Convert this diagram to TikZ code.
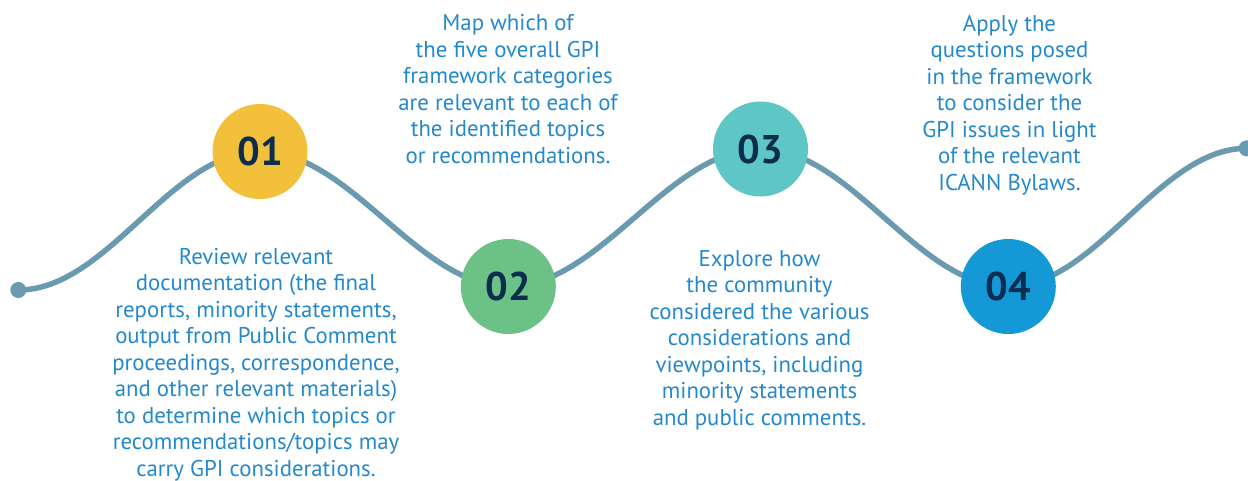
\documentclass[tikz,border=0pt]{standalone}
\usepackage{fontspec}
\setmainfont{PT Sans}
\usetikzlibrary{backgrounds}
\definecolor{wave}{HTML}{6A9AB0}
\definecolor{txt}{HTML}{2388CC}
\definecolor{num}{HTML}{0D2D4F}
\definecolor{cA}{HTML}{F2C03A}
\definecolor{cB}{HTML}{6CC286}
\definecolor{cC}{HTML}{5EC6C4}
\definecolor{cD}{HTML}{1499D6}
\tikzset{
  stepcircle/.style={circle, minimum size=95pt, inner sep=0pt, text=num,
    font=\fontsize{40}{40}\selectfont\bfseries},
  enddot/.style={circle, fill=wave, minimum size=16pt, inner sep=0pt},
  desc/.style={align=center, text=txt, inner sep=0pt, anchor=base,
    font=\fontsize{22.8}{26.5}\selectfont},
  wavy/.style={draw=wave, line width=5.5pt, out=0, in=180, looseness=0.82}
}
\begin{document}
\begin{tikzpicture}[x=1pt,y=-1pt]
\useasboundingbox (0,0) rectangle (1248,480);
\node[enddot] (d0) at (18.3,290) {};
\node[enddot] (d5) at (1246.7,148.3) {};
\node[stepcircle, fill=cA] (c1) at (260,151.5) {01};
\node[stepcircle, fill=cB] (c2) at (508.3,286.5) {02};
\node[stepcircle, fill=cC] (c3) at (760.5,149) {03};
\node[stepcircle, fill=cD] (c4) at (1008.3,286.5) {04};
\begin{pgfonlayer}{background}
\draw[wavy] (d0.center) to (c1.center);
\draw[wavy] (c1.center) to (c2.center);
\draw[wavy] (c2.center) to (c3.center);
\draw[wavy] (c3.center) to (c4.center);
\draw[wavy] (c4.center) to (d5.center);
\end{pgfonlayer}
\node[desc] (t1) at (256,476) {Review relevant\\documentation (the final\\reports, minority statements,\\output from Public Comment\\proceedings, correspondence,\\and other relevant materials)\\to determine which topics or\\recommendations/topics may\\carry GPI considerations.};
\node[desc] (t2) at (508,163) {Map which of\\the five overall GPI\\framework categories\\are relevant to each of\\the identified topics\\or recommendations.};
\node[desc] (t3) at (759.5,425) {Explore how\\the community\\considered the various\\considerations and\\viewpoints, including\\minority statements\\and public comments.};
\node[desc] (t4) at (1009.5,190) {Apply the\\questions posed\\in the framework\\to consider the\\GPI issues in light\\of the relevant\\ICANN Bylaws.};
\end{tikzpicture}
\end{document}
